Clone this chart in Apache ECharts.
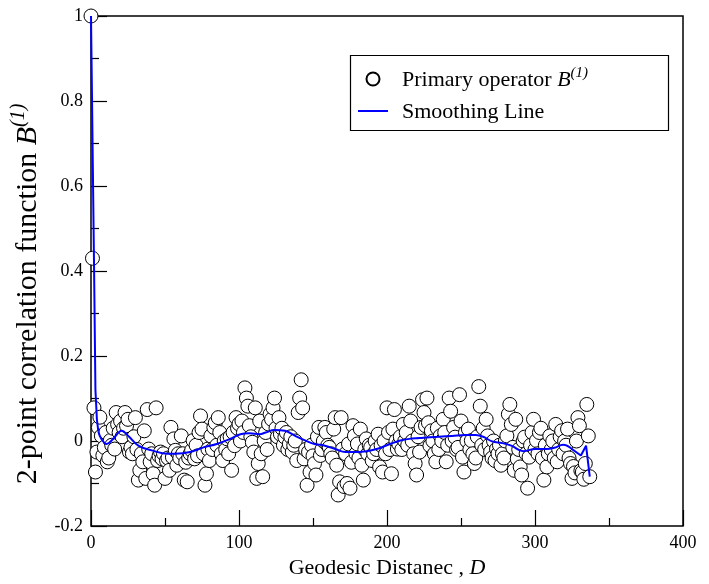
<!DOCTYPE html>
<html><head><meta charset="utf-8">
<script src="https://cdn.jsdelivr.net/npm/echarts@6/dist/echarts.min.js"></script>
<style>html,body{margin:0;padding:0;background:#fff}#c{width:709px;height:584px}</style>
</head><body><div id="c"></div><script>
// ---- data: 2-point correlation B(1) vs geodesic distance D (D = 0,1,2,...) ----
const b_D0_55 = [1.0, 0.43, 0.078, -0.073, -0.026, 0.032, 0.056, 0.012, -0.034, -0.015,
 0.02, -0.049, -0.04, 0.001, -0.01, 0.03, -0.019, 0.067, 0.039, 0.02,
 0.047, 0.01, 0.03, 0.067, 0.036, 0.051, -0.026, -0.015, -0.03, 0.01,
 0.055, -0.02, -0.092, -0.069, -0.03, -0.049, 0.024, -0.088, 0.074, -0.019,
 -0.049, -0.03, -0.077, -0.104, 0.078, -0.046, -0.035, -0.026, -0.042, -0.03,
 -0.088, -0.046, -0.04, -0.069, 0.032, -0.038];
const b_D56_110 = [0.005, -0.022, -0.057, -0.03, -0.04, 0.012, -0.03, -0.092, -0.05, -0.096,
 -0.04, -0.03, -0.022, 0.001, -0.042, -0.01, -0.035, 0.02, 0.059, 0.028,
 -0.03, -0.104, -0.077, -0.019, -0.046, 0.012, -0.02, 0.032, 0.043, -0.01,
 0.055, 0.02, -0.03, -0.046, 0.0, -0.02, 0.005, -0.03, 0.01, -0.069,
 0.02, -0.011, 0.055, 0.03, 0.04, 0.0, 0.047, 0.02, 0.125, 0.101,
 0.082, 0.036, 0.01, -0.003, -0.026];
const b_D111_171 = [0.078, -0.088, -0.053, 0.047, -0.03, -0.084, 0.0, 0.02, -0.02, 0.04,
 0.063, 0.051, 0.078, 0.101, 0.03, 0.01, 0.055, 0.016, 0.03, -0.01,
 0.009, 0.02, -0.02, -0.007, 0.01, -0.026, -0.01, 0.0, -0.046, 0.067,
 0.101, 0.144, 0.078, -0.042, -0.02, -0.104, -0.026, -0.073, -0.01, -0.035,
 -0.053, -0.08, 0.01, 0.032, -0.034, -0.02, 0.0, 0.032, 0.02, -0.01,
 -0.015, -0.03, -0.04, 0.028, 0.055, -0.057, -0.127, -0.096, 0.055, -0.019, -0.107];
const b_D172_229 = [-0.03, -0.1, -0.007, -0.111, -0.05, 0.036, 0.012, -0.03, -0.007, -0.04,
 0.028, -0.057, -0.092, -0.02, 0.005, -0.03, -0.01, -0.015, -0.046, -0.03,
 0.0, -0.02, 0.016, -0.061, -0.01, -0.073, 0.0, -0.03, 0.078, 0.02,
 -0.02, -0.077, 0.028, 0.074, 0.0, -0.019, -0.007, 0.01, -0.02, 0.039,
 0.0, 0.02, -0.01, 0.082, 0.047, 0.0, -0.03, -0.053, -0.08, 0.01,
 -0.026, 0.032, 0.097, 0.067, 0.036, 0.101, 0.043, -0.011];
const b_D230_285 = [0.024, 0.0, -0.03, -0.049, 0.03, -0.02, 0.012, 0.0, 0.051, 0.02,
 -0.049, -0.01, 0.101, 0.07, 0.0, 0.032, 0.009, -0.02, -0.015, 0.109,
 0.047, -0.038, -0.073, 0.02, 0.0, 0.028, -0.02, 0.001, -0.03, -0.053,
 -0.04, 0.01, 0.128, 0.082, -0.01, 0.03, -0.02, 0.051, 0.012, -0.01,
 -0.026, -0.04, 0.0, -0.046, -0.019, -0.03, -0.01, -0.057, -0.03, -0.04,
 0.0, 0.012, 0.063, 0.086, 0.039, -0.015];
const b_D286_337 = [-0.069, 0.051, -0.042, -0.02, -0.061, -0.08, 0.0, 0.009, -0.03, -0.111,
 -0.038, -0.01, 0.02, 0.051, -0.02, 0.001, -0.03, 0.02, 0.03, -0.04,
 -0.092, -0.01, -0.061, -0.03, 0.012, -0.02, 0.0, -0.04, 0.039, -0.049,
 -0.02, 0.01, 0.024, -0.03, 0.0, -0.01, 0.028, -0.04, -0.053, -0.088,
 -0.06, -0.075, 0.0, 0.055, 0.036, -0.07, -0.073, -0.09, -0.053, 0.086, 0.012, -0.084];

// smoothing line, read at these distances
const smoothD = [0, 2, 3, 4, 5, 7, 10.6, 15, 20.7, 25.2, 32, 41, 52, 57, 67, 76, 85, 94, 101, 107,
 114, 118, 124, 131, 138, 145, 151, 158, 165, 172, 177, 186, 193, 202, 209, 215, 222, 229, 235, 244,
 253, 260, 265, 271, 278, 284, 292, 300, 308, 313, 319, 325, 331, 334.5, 337];
const smoothB = [1, 0.43, 0.12, 0.05, 0.022, 0.005, -0.007, 0.005, 0.024, 0.012, -0.011, -0.022, -0.03, -0.03, -0.026, -0.015, -0.007, 0.005, 0.016, 0.018,
 0.016, 0.02, 0.026, 0.024, 0.012, 0.001, -0.007, -0.011, -0.019, -0.026, -0.026, -0.024, -0.019, -0.007, 0.001, 0.005, 0.007, 0.009, 0.01, 0.012,
 0.014, 0.014, 0.01, -0.001, -0.005, -0.011, -0.024, -0.019, -0.019, -0.016, -0.009, -0.019, -0.034, -0.011, -0.084];

const xTicks = [0, 100, 200, 300, 400];
const yTicks = [-0.2, 0, 0.2, 0.4, 0.6, 0.8, 1];
const seriesNames = ['Primary operator', 'Smoothing Line'];

// ---- build ----
const bValues = [].concat(b_D0_55, b_D56_110, b_D111_171, b_D172_229, b_D230_285, b_D286_337);
const scatterData = bValues.map((v, i) => [i, v]);
const linePts = smoothD.map((d, i) => [d, smoothB[i]]);
const lineA = linePts.filter(p => p[0] <= 5);
const lineB = linePts.filter(p => p[0] >= 5 && p[0] <= 325);
const lineC = linePts.filter(p => p[0] >= 325);

const FONT = '"Liberation Serif", "Times New Roman", serif';
const xRich = {
  n: {fontFamily: FONT, fontSize: 22, color: '#000', lineHeight: 24, verticalAlign: 'bottom'},
  i: {fontFamily: FONT, fontSize: 22, color: '#000', fontStyle: 'italic', lineHeight: 24, verticalAlign: 'bottom'}
};
const yRich = {
  n: {fontFamily: FONT, fontSize: 30, color: '#000', lineHeight: 30, verticalAlign: 'bottom'},
  i: {fontFamily: FONT, fontSize: 30, color: '#000', fontStyle: 'italic', lineHeight: 30, verticalAlign: 'bottom'},
  s: {fontFamily: FONT, fontSize: 20, color: '#000', fontStyle: 'italic', lineHeight: 20, verticalAlign: 'bottom', padding: [0, 0, 15, 0]}
};
const legRich = {
  n: {fontFamily: FONT, fontSize: 22, color: '#000', lineHeight: 24, verticalAlign: 'bottom'},
  i: {fontFamily: FONT, fontSize: 22, color: '#000', fontStyle: 'italic', lineHeight: 24, verticalAlign: 'bottom'},
  s: {fontFamily: FONT, fontSize: 15, color: '#000', fontStyle: 'italic', lineHeight: 15, verticalAlign: 'bottom', padding: [0, 0, 10, 0]}
};

const chart = echarts.init(document.getElementById('c'), null, {renderer: 'canvas'});
const lineStyle = {color: '#0000ff', width: 2};
const lineCommon = {type: 'line', name: seriesNames[1], showSymbol: false, symbol: 'none', lineStyle: lineStyle, itemStyle: {color: '#0000ff'}, z: 5, animation: false, clip: false};
chart.setOption({
  animation: false,
  backgroundColor: '#fff',
  grid: {left: 91, top: 16, right: 26, bottom: 51, show: true, borderColor: '#000', borderWidth: 1.5, backgroundColor: 'transparent'},
  xAxis: {
    type: 'value', min: xTicks[0], max: xTicks[xTicks.length - 1], interval: 100,
    axisLine: {show: false, onZero: false},
    axisTick: {show: true, inside: true, length: 16, lineStyle: {color: '#000', width: 1.2}},
    minorTick: {show: true, splitNumber: 2, length: 8, lineStyle: {color: '#000', width: 1.2}},
    splitLine: {show: false},
    axisLabel: {fontFamily: FONT, fontSize: 18, color: '#000', margin: 8},
    name: '{n|Geodesic Distanec , }{i|D}', nameLocation: 'middle', nameGap: 29,
    nameTextStyle: {rich: xRich}
  },
  yAxis: {
    type: 'value', min: yTicks[0], max: yTicks[yTicks.length - 1], interval: 0.2,
    axisLine: {show: false, onZero: false},
    axisTick: {show: true, inside: true, length: 16, lineStyle: {color: '#000', width: 1.2}},
    minorTick: {show: true, splitNumber: 2, length: 8, lineStyle: {color: '#000', width: 1.2}},
    splitLine: {show: false},
    axisLabel: {fontFamily: FONT, fontSize: 18, color: '#000', margin: 8},
    name: '{n|2-point correlation function }{i|B}{s|(1)}', nameLocation: 'middle', nameGap: 34,
    nameTextStyle: {rich: yRich, padding: [0, 46, 0, 0]}
  },
  legend: {
    left: 353, top: 61, orient: 'vertical', itemWidth: 30, itemHeight: 13, itemGap: 10,
    textStyle: {fontFamily: FONT, fontSize: 22, color: '#000', padding: [0, 0, 0, 9], rich: legRich},
    data: [{name: seriesNames[0], icon: 'circle'}, {name: seriesNames[1], icon: 'path://M0,0L30,0L30,2L0,2Z'}],
    formatter: function (name) {
      return name === seriesNames[0] ? '{n|' + name + ' }{i|B}{s|(1)}' : '{n|' + name + '}';
    }
  },
  graphic: [{type: 'rect', left: 348, top: 53, shape: {width: 318, height: 75}, style: {fill: 'none', stroke: '#000', lineWidth: 1.2}, z: 100}],
  series: [
    {type: 'scatter', name: seriesNames[0], data: scatterData, symbol: 'circle', symbolSize: 14,
     itemStyle: {color: '#fff', borderColor: '#000', borderWidth: 1, opacity: 1}, clip: false, z: 2, animation: false},
    Object.assign({}, lineCommon, {data: lineA, smooth: false}),
    Object.assign({}, lineCommon, {data: lineB, smooth: 0.4}),
    Object.assign({}, lineCommon, {data: lineC, smooth: false})
  ]
});
</script></body></html>
